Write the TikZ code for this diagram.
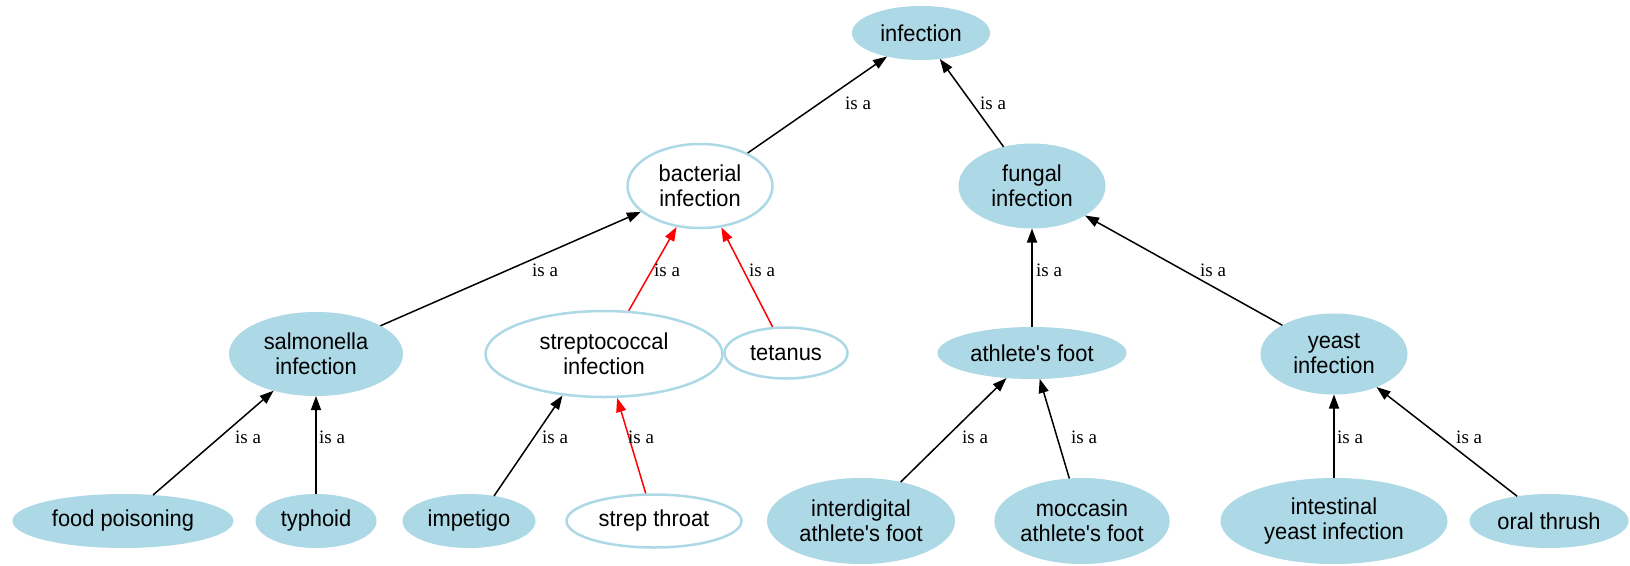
\documentclass[tikz,border=0pt]{standalone}
\usepackage{fontspec}
\setmainfont{Liberation Serif}
\newfontfamily\conceptfont[FakeStretch=0.95]{Liberation Sans}
\usetikzlibrary{shapes.geometric,arrows.meta}
\definecolor{conceptblue}{HTML}{ADD8E6}

\begin{document}
\begin{tikzpicture}[x=1pt,y=-1pt,
    concept/.style={ellipse, inner sep=0pt, align=center,
      font=\conceptfont\fontsize{23}{25}\selectfont},
    filled/.style={concept, fill=conceptblue, draw=conceptblue, line width=1pt},
    hollow/.style={concept, fill=white, draw=conceptblue, line width=2.5pt},
    isa/.style={line width=1.5pt, -{Triangle[length=14pt,width=10pt]}},
    isalbl/.style={anchor=west, inner sep=0pt, font=\fontsize{19}{20}\selectfont}]
  \useasboundingbox (0,0) rectangle (1630,565);

  % top two ranks
  \node[filled, minimum width=137pt, minimum height=53pt] (infection) at (921,33) {infection};
  \node[hollow, minimum width=145pt, minimum height=84pt] (bacterial) at (700,186) {bacterial\\infection};
  \node[filled, minimum width=146pt, minimum height=84pt] (fungal) at (1032,186) {fungal\\infection};

  % third rank
  \node[filled, minimum width=173pt, minimum height=83pt] (salmonella) at (316,354) {salmonella\\infection};
  \node[hollow, minimum width=237pt, minimum height=86pt] (strepto) at (604,354) {streptococcal\\infection};
  \node[hollow, minimum width=123pt, minimum height=51pt] (tetanus) at (786,353) {tetanus};
  \node[filled, minimum width=188pt, minimum height=51pt] (athlete) at (1032,353) {athlete's foot};
  \node[filled, minimum width=146pt, minimum height=80pt] (yeast) at (1334,354) {yeast\\infection};

  % leaves
  \node[filled, minimum width=220pt, minimum height=53pt] (foodpois) at (123,521) {food poisoning};
  \node[filled, minimum width=120pt, minimum height=53pt] (typhoid) at (316,521) {typhoid};
  \node[filled, minimum width=132pt, minimum height=53pt] (impetigo) at (469,521) {impetigo};
  \node[hollow, minimum width=175pt, minimum height=53pt] (strepthroat) at (654,521) {strep throat};
  \node[filled, minimum width=187pt, minimum height=85pt] (interdig) at (861,521) {interdigital\\athlete's foot};
  \node[filled, minimum width=174pt, minimum height=85pt] (moccasin) at (1082,521) {moccasin\\athlete's foot};
  \node[filled, minimum width=226pt, minimum height=85pt] (intestinal) at (1334,521) {intestinal\\yeast infection};
  \node[filled, minimum width=158pt, minimum height=53pt] (oralthrush) at (1549,521) {oral thrush};

  \draw[isa] (bacterial) -- (infection);
  \draw[isa] (fungal) -- (infection);
  \draw[isa] (salmonella) -- (bacterial);
  \draw[isa, red] (strepto) -- (bacterial);
  \draw[isa, red] (tetanus) -- (bacterial);
  \draw[isa] (athlete) -- (fungal);
  \draw[isa] (yeast) -- (fungal);
  \draw[isa] (foodpois) -- (salmonella);
  \draw[isa] (typhoid) -- (salmonella);
  \draw[isa] (impetigo.45) -- (strepto.225);
  \draw[isa, red] (strepthroat) -- (strepto);
  \draw[isa] (interdig) -- (athlete);
  \draw[isa] (moccasin) -- (athlete);
  \draw[isa] (intestinal) -- (yeast);
  \draw[isa] (oralthrush) -- (yeast);

  \node[isalbl] (l1) at (845,103) {is a};
  \node[isalbl] (l2) at (980,103) {is a};
  \node[isalbl] (l3) at (532,270) {is a};
  \node[isalbl] (l4) at (654,270) {is a};
  \node[isalbl] (l5) at (749,270) {is a};
  \node[isalbl] (l6) at (1036,270) {is a};
  \node[isalbl] (l7) at (1200,270) {is a};
  \node[isalbl] (l8) at (235,437) {is a};
  \node[isalbl] (l9) at (319,437) {is a};
  \node[isalbl] (l10) at (542,437) {is a};
  \node[isalbl] (l11) at (628,437) {is a};
  \node[isalbl] (l12) at (962,437) {is a};
  \node[isalbl] (l13) at (1071,437) {is a};
  \node[isalbl] (l14) at (1337,437) {is a};
  \node[isalbl] (l15) at (1456,437) {is a};
\end{tikzpicture}
\end{document}
